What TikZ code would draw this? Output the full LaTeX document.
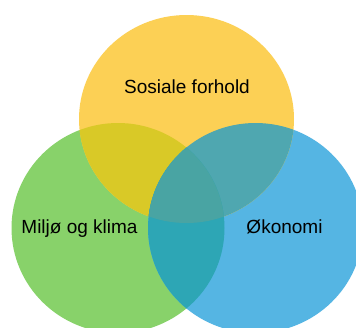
\documentclass[tikz,border=0pt]{standalone}
\usepackage{fontspec}
\setmainfont{Liberation Sans}
\definecolor{yel}{HTML}{FCD055}
\definecolor{grn}{HTML}{88D26A}
\definecolor{blu}{HTML}{55B5E3}
\definecolor{yg}{HTML}{D9C927}
\definecolor{yb}{HTML}{4FA7B0}
\definecolor{gb}{HTML}{2DA6B5}
\definecolor{ygb}{HTML}{49A4A3}
\tikzset{
  lbl/.style={anchor=base, inner sep=0pt, font=\fontsize{19}{22}\selectfont, text=black},
  yset/.style={x radius=107.5, y radius=104},
  gset/.style={x radius=106.5, y radius=105},
  bset/.style={x radius=107.5, y radius=105}
}
\begin{document}
\begin{tikzpicture}[x=1pt,y=-1pt]
\clip (0,0) rectangle (356,327);
\fill[white] (0,0) rectangle (356,327);
\coordinate (cy) at (186.5,119);
\coordinate (cg) at (118,228);
\coordinate (cb) at (255.5,228);
\fill[grn] (cg) ellipse [gset];
\fill[blu] (cb) ellipse [bset];
\fill[yel] (cy) ellipse [yset];
\begin{scope}
  \clip (cy) ellipse [yset];
  \fill[yg] (cg) ellipse [gset];
  \fill[yb] (cb) ellipse [bset];
  \clip (cg) ellipse [gset];
  \fill[ygb] (cb) ellipse [bset];
\end{scope}
\begin{scope}
  \clip (cg) ellipse [gset];
  \clip (cb) ellipse [bset];
  \fill[gb] (cb) ellipse [bset];
  \clip (cy) ellipse [yset];
  \fill[ygb] (cy) ellipse [yset];
\end{scope}
\node[lbl] (sos) at (187,93) {Sosiale forhold};
\node[lbl] (mil) at (79.5,233) {Miljø og klima};
\node[lbl] (oko) at (284.5,233) {Økonomi};
\end{tikzpicture}
\end{document}
